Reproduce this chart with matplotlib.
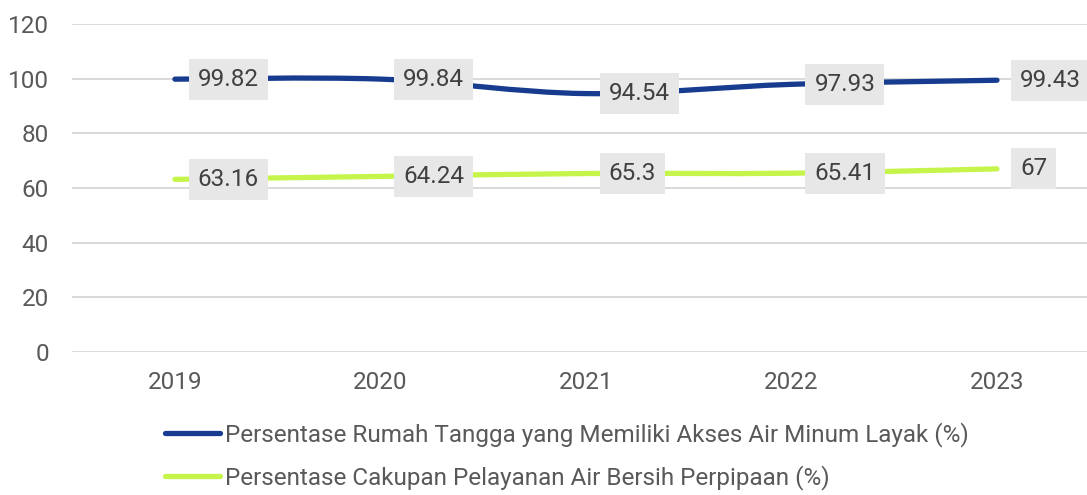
import matplotlib
matplotlib.use("Agg")
import matplotlib.pyplot as plt
from matplotlib.path import Path
from matplotlib.patches import PathPatch
from matplotlib.lines import Line2D

plt.rcParams['font.family'] = ['Roboto', 'DejaVu Sans']

years = ["2019", "2020", "2021", "2022", "2023"]
akses_air_minum = [99.82, 99.84, 94.54, 97.93, 99.43]
air_bersih_perpipaan = [63.16, 64.24, 65.3, 65.41, 67]
series_names = [
    "Persentase Rumah Tangga yang Memiliki Akses Air Minum Layak (%)",
    "Persentase Cakupan Pelayanan Air Bersih Perpipaan (%)",
]
y_ticks = [0, 20, 40, 60, 80, 100, 120]

BLUE = "#173c8f"
GREEN = "#c5f54b"
TEXT = "#595959"
GRID = "#d9d9d9"
LABEL_BG = "#e7e7e7"
FS = 17.5


def smooth_path(xs, ys):
    """Catmull-Rom style Bezier path through the points."""
    pts = list(zip(xs, ys))
    verts = [pts[0]]
    codes = [Path.MOVETO]
    n = len(pts)
    for i in range(n - 1):
        p0 = pts[i - 1] if i > 0 else pts[i]
        p1 = pts[i]
        p2 = pts[i + 1]
        p3 = pts[i + 2] if i + 2 < n else pts[i + 1]
        c1 = (p1[0] + (p2[0] - p0[0]) / 6, p1[1] + (p2[1] - p0[1]) / 6)
        c2 = (p2[0] - (p3[0] - p1[0]) / 6, p2[1] - (p3[1] - p1[1]) / 6)
        verts += [c1, c2, p2]
        codes += [Path.CURVE4] * 3
    return Path(verts, codes)


fig = plt.figure(figsize=(10.87, 4.95), dpi=100)
ax = fig.add_axes([0.0662, 0.2889, 0.9338, 0.6626])

x = list(range(len(years)))
for vals, color in [(akses_air_minum, BLUE), (air_bersih_perpipaan, GREEN)]:
    patch = PathPatch(smooth_path(x, vals), facecolor="none", edgecolor=color,
                      lw=3.8, capstyle="round", joinstyle="round", zorder=3)
    ax.add_patch(patch)
    for xi, v in zip(x, vals):
        ax.annotate(f"{v:g}", (xi, v), xytext=(16.5, 0), textcoords="offset points",
                    ha="left", va="center", fontsize=FS, color="#404040", zorder=5,
                    annotation_clip=False,
                    bbox=dict(boxstyle="square,pad=0.37", fc=LABEL_BG, ec="none"))

ax.set_xlim(-0.501, 4.438)
ax.set_ylim(0, 120)
ax.set_yticks(y_ticks)
ax.set_xticks(x)
ax.set_xticklabels(years)
ax.grid(axis="y", color=GRID, lw=1.4)
ax.set_axisbelow(True)
for s in ax.spines.values():
    s.set_visible(False)
ax.tick_params(axis="both", length=0, labelsize=FS, labelcolor=TEXT)
ax.tick_params(axis="x", pad=14)
ax.tick_params(axis="y", pad=16.5)

handles = [Line2D([], [], color=BLUE, lw=3.8, solid_capstyle="round"),
           Line2D([], [], color=GREEN, lw=3.8, solid_capstyle="round")]
fig.legend(handles, series_names, loc="upper left",
           bbox_to_anchor=(165 / 1087, 1 - 422 / 495), frameon=False,
           fontsize=FS, labelcolor=TEXT, handlelength=2.26, handletextpad=0.2,
           labelspacing=0.75, borderpad=0, borderaxespad=0)

fig.savefig("out.png", dpi=100)
